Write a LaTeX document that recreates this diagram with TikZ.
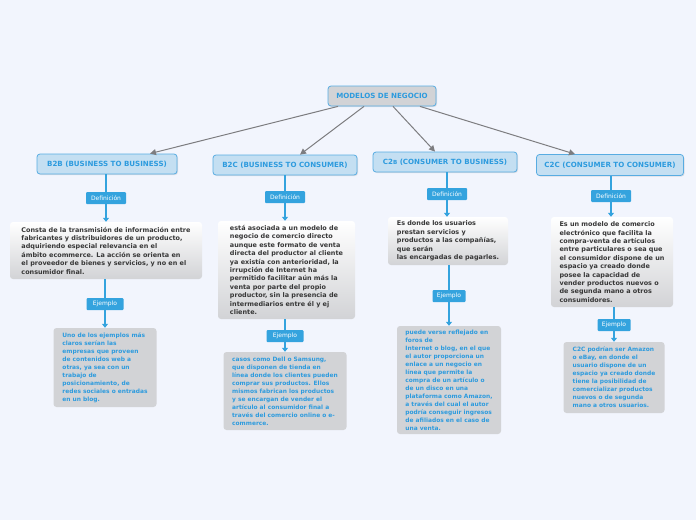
\documentclass[tikz,border=0pt]{standalone}
\usepackage{fontspec}
\setmainfont{DejaVu Sans}
\usetikzlibrary{arrows.meta,shadows}
\definecolor{fondo}{RGB}{242,245,253}
\definecolor{azul}{RGB}{52,163,222}
\definecolor{azultxt}{RGB}{45,155,222}
\definecolor{celeste}{RGB}{196,223,242}
\definecolor{borde}{RGB}{88,172,226}
\definecolor{gris}{RGB}{210,211,214}
\definecolor{flecha}{RGB}{125,125,128}
\definecolor{texto}{RGB}{55,55,55}

\begin{document}
\begin{tikzpicture}[x=1pt,y=-1pt]
\tikzstyle{every node}+=[inner sep=0pt]
\tikzstyle{raiz}=[draw=borde,line width=0.8pt,fill=gris,rounded corners=3pt,text=azultxt,font=\bfseries\fontsize{7.1}{8}\selectfont,drop shadow={opacity=0.2,shadow xshift=1pt,shadow yshift=-1pt}]
\tikzstyle{tipo}=[draw=borde,line width=0.8pt,fill=celeste,rounded corners=3pt,text=azultxt,font=\bfseries\fontsize{7.1}{8}\selectfont,minimum height=20pt,drop shadow={opacity=0.2,shadow xshift=1pt,shadow yshift=-1pt}]
\tikzstyle{etiqueta}=[fill=azul,rounded corners=1pt,text=white,font=\fontsize{6}{6}\selectfont,minimum height=12pt,minimum width=40pt]
\tikzstyle{defi}=[rounded corners=3pt,top color=white,bottom color=gris,text=texto,align=left,font=\bfseries\fontsize{6.45}{8.4}\selectfont]
\tikzstyle{ejem}=[rounded corners=3pt,fill=gris,text=azultxt,align=left,font=\bfseries\fontsize{5.9}{8}\selectfont]
\tikzstyle{rama}=[flecha,line width=1pt,-{Triangle[width=6pt,length=6pt]}]
\tikzstyle{linea}=[azul,line width=1.2pt]
\tikzstyle{baja}=[azul,line width=1.2pt,-{Triangle[width=6pt,length=4pt]}]
\fill [fondo] (0,0) rectangle (696,520);
\useasboundingbox (0,0) rectangle (696,520);
\node [raiz,minimum width=108pt,minimum height=20pt] (raiz) at (382,96) {MODELOS DE NEGOCIO};
\node [tipo,minimum width=140pt] (btob) at (107,164) {B2B (BUSINESS TO BUSINESS)};
\node [tipo,minimum width=144pt] (btoc) at (285,165) {B2C (BUSINESS TO CONSUMER)};
\node [tipo,minimum width=144pt] (ctob) at (445,162) {C2{\fontsize{5.6}{6}\selectfont B} (CONSUMER TO BUSINESS)};
\node [tipo,minimum width=147pt,minimum height=21pt] (ctoc) at (610,165) {C2C (CONSUMER TO CONSUMER)};
\draw [rama] ([xshift=-44pt]raiz.south) -- ([xshift=43pt]btob.north);
\draw [rama] ([xshift=-18pt]raiz.south) -- ([xshift=15pt]btoc.north);
\draw [rama] ([xshift=11pt]raiz.south) -- ([xshift=-10pt]ctob.north);
\draw [rama] ([xshift=38pt]raiz.south) -- ([xshift=-35pt]ctoc.north);
% B2B
\node [etiqueta] (btobdl) at (106,198) {Definición};
\node [defi,minimum width=192pt,minimum height=57pt] (btobdef) at (106,250.5) {Consta de la transmisión de información entre\\fabricantes y distribuidores de un producto,\\adquiriendo especial relevancia en el\\ámbito ecommerce. La acción se orienta en\\el proveedor de bienes y servicios, y no en el\\consumidor final.};
\node [etiqueta,minimum width=37pt] (btobel) at (105,304) {Ejemplo};
\node [ejem,minimum width=103pt,minimum height=79pt] (btobej) at (105,367.5) {Uno de los ejemplos más\\claros serían las\\empresas que proveen\\de contenidos web a\\otras, ya sea con un\\trabajo de\\posicionamiento, de\\redes sociales o entradas\\en un blog.};
\draw [linea] (btob.south -| btobdl) -- (btobdl);
\draw [baja] (btobdl) -- (btobdef.north -| btobdl);
\draw [linea] (btobdef.south -| btobel) -- (btobel);
\draw [baja] (btobel) -- (btobej);
% B2C
\node [etiqueta] (btocdl) at (285,197) {Definición};
\node [defi,minimum width=137pt,minimum height=98pt] (btocdef) at (286.5,270) {está asociada a un modelo de\\negocio de comercio directo\\aunque este formato de venta\\directa del productor al cliente\\ya existía con anterioridad, la\\irrupción de Internet ha\\permitido facilitar aún más la\\venta por parte del propio\\productor, sin la presencia de\\intermediarios entre él y ej\\cliente.};
\node [etiqueta,minimum width=37pt] (btocel) at (285,336) {Ejemplo};
\node [ejem,minimum width=123pt,minimum height=78pt] (btocej) at (285,391) {casos como Dell o Samsung,\\que disponen de tienda en\\línea donde los clientes pueden\\comprar sus productos. Ellos\\mismos fabrican los productos\\y se encargan de vender el\\artículo al consumidor final a\\través del comercio online o e-\\commerce.};
\draw [linea] (btoc.south -| btocdl) -- (btocdl);
\draw [baja] (btocdl) -- (btocdef.north -| btocdl);
\draw [linea] (btocdef.south -| btocel) -- (btocel);
\draw [baja] (btocel) -- (btocej);
% C2B
\node [etiqueta] (ctobdl) at (447,194) {Definición};
\node [defi,minimum width=120pt,minimum height=48pt] (ctobdef) at (448,241) {Es donde los usuarios\\prestan servicios y\\productos a las compañías,\\que serán\\las encargadas de pagarles.};
\node [etiqueta,minimum width=33pt] (ctobel) at (449,296) {Ejemplo};
\node [ejem,minimum width=104pt,minimum height=108pt] (ctobej) at (449,380) {puede verse reflejado en\\foros de\\Internet o blog, en el que\\el autor proporciona un\\enlace a un negocio en\\línea que permite la\\compra de un artículo o\\de un disco en una\\plataforma como Amazon,\\a través del cual el autor\\podría conseguir ingresos\\de afiliados en el caso de\\una venta.};
\draw [linea] (ctob.south -| ctobdl) -- (ctobdl);
\draw [baja] (ctobdl) -- (ctobdef.north -| ctobdl);
\draw [linea] (ctobdef.south -| ctobel) -- (ctobel);
\draw [baja] (ctobel) -- (ctobej);
% C2C
\node [etiqueta] (ctocdl) at (611,196) {Definición};
\node [defi,minimum width=122pt,minimum height=90pt] (ctocdef) at (612,262) {Es un modelo de comercio\\electrónico que facilita la\\compra-venta de artículos\\entre particulares o sea que\\el consumidor dispone de un\\espacio ya creado donde\\posee la capacidad de\\vender productos nuevos o\\de segunda mano a otros\\consumidores.};
\node [etiqueta,minimum width=33pt] (ctocel) at (614,325) {Ejemplo};
\node [ejem,minimum width=101pt,minimum height=71pt] (ctocej) at (614,377.5) {C2C podrían ser Amazon\\o eBay, en donde el\\usuario dispone de un\\espacio ya creado donde\\tiene la posibilidad de\\comercializar productos\\nuevos o de segunda\\mano a otros usuarios.};
\draw [linea] (ctoc.south -| ctocdl) -- (ctocdl);
\draw [baja] (ctocdl) -- (ctocdef.north -| ctocdl);
\draw [linea] (ctocdef.south -| ctocel) -- (ctocel);
\draw [baja] (ctocel) -- (ctocej);
\end{tikzpicture}
\end{document}
